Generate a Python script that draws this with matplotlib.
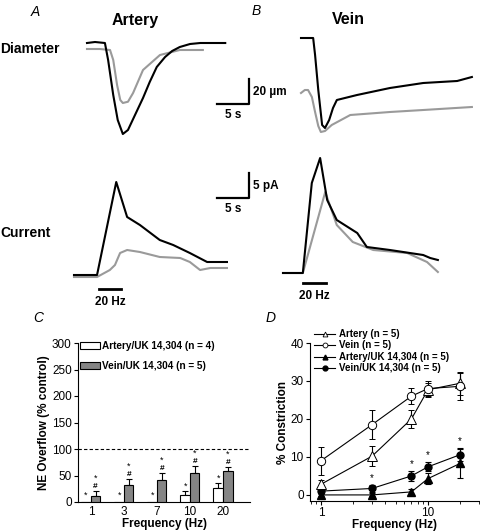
import numpy as np
import matplotlib.pyplot as plt
from matplotlib.patches import Patch
from matplotlib.lines import Line2D
from matplotlib.ticker import LogLocator, NullFormatter

plt.rcParams['font.family'] = ['Liberation Sans', 'DejaVu Sans']

W, H = 480, 531
GRAY = '#9a9a9a'
BAR_GRAY = '#858585'

# ---- traces (time in s, diameter in um, current in pA)
art_diam_t = [0, 1.25, 2.8, 3.3, 4.1, 4.8, 5.6, 6.4, 7.5, 8.75, 9.8, 10.9, 12.2, 13.3, 14.5, 16.1, 17.7, 19.5, 21.6]
art_diam_blk = [0, 0.8, 0, -13.6, -41.6, -61.6, -72.8, -69.6, -57.6, -44, -31.2, -19.2, -11.2, -6.4, -3.2, -0.8, 0, 0, 0]
art_diam_t2 = [0, 2, 3.6, 4.1, 4.7, 5.2, 5.6, 6.4, 7.2, 8.75, 11.4, 14.5, 18.1]
art_diam_gry = [-4.8, -4.8, -5.6, -13.6, -33.6, -45.6, -48, -47, -40, -21.6, -9.6, -5.6, -5.6]

vein_diam_t = [0, 1.9, 2.2, 2.7, 3.3, 3.75, 4.4, 5.0, 5.6, 8.75, 13.9, 19.1, 24.4, 26.7]
vein_diam_blk = [0, 0, -13.6, -41.6, -69.6, -72, -65.6, -56, -49.6, -45.6, -40, -36, -34.4, -31.2]
vein_diam_t2 = [0, 0.6, 1.1, 1.7, 2.2, 2.7, 3.1, 3.75, 4.8, 7.7, 13.9, 19.1, 26.7]
vein_diam_gry = [-44, -41.6, -41.6, -47.2, -59.2, -70.4, -75.2, -74.4, -69.6, -61.6, -59.2, -57.6, -55.2]

art_cur_t = [0, 1.7, 3.6, 6.6, 8.3, 10.3, 13.4, 15.5, 18.1, 20.8, 23.9]
art_cur_blk = [0, 0, 0, 18.6, 11.6, 10, 7, 6, 4.4, 2.6, 2.6]
art_cur_t2 = [0, 3.6, 5.6, 6.4, 7.2, 8.3, 10.3, 13.4, 16.6, 18.1, 19.7, 21.3, 23.9]
art_cur_gry = [-0.4, -0.4, 1.0, 2.0, 4.4, 5.0, 4.6, 3.6, 3.4, 2.6, 1.0, 1.4, 1.4]

vein_cur_t = [0, 3.1, 4.5, 5.8, 6.9, 8.4, 11.6, 13.1, 16.7, 21.9, 23.0, 24.2]
vein_cur_blk = [0, 0, 18, 23, 14.6, 10.6, 8, 5.2, 4.6, 3.6, 3, 2.6]
vein_cur_t2 = [0, 3.1, 6.6, 8.4, 10.9, 14.1, 19.4, 22.5, 24.2]
vein_cur_gry = [0, 0, 16.2, 9.6, 6.2, 4.6, 4, 2.2, 0.2]

stim_artery = (3.9, 7.3)
stim_vein = (3.1, 6.7)

# ---- panel C: NE overflow
freq_labels = ['1', '3', '7', '10', '20']
ne_artery = [0, 0, 0, 13, 27]
ne_artery_err = [0, 0, 0, 8, 9]
ne_vein = [11, 32, 41, 55, 58]
ne_vein_err = [9, 11, 13, 12, 8]

# ---- panel D: constriction
freqs = [1, 3, 7, 10, 20]
con_artery = [2.8, 10.2, 20.0, 27.7, 29.4]
con_artery_err = [1.0, 2.6, 2.3, 1.8, 3.0]
con_vein = [9.0, 18.5, 26.0, 28.0, 28.6]
con_vein_err = [3.7, 3.9, 2.1, 2.0, 3.6]
con_artery_uk = [0.0, 0.0, 0.8, 4.3, 8.3]
con_artery_uk_err = [0.4, 0.4, 0.8, 1.4, 3.9]
con_vein_uk = [1.0, 1.7, 5.0, 7.4, 10.6]
con_vein_uk_err = [0.8, 1.0, 1.4, 1.2, 1.7]
uk_sig = [False, True, True, True, True]

fig = plt.figure(figsize=(4.8, 5.31), dpi=100)


def px_axes(l, t, r, b):
    return fig.add_axes([l / W, 1 - b / H, (r - l) / W, (b - t) / H])


def trace_axes(box, x0, y0, sx, sy):
    l, t, r, b = box
    ax = px_axes(l, t, r, b)
    ax.set_xlim((l - x0) / sx, (r - x0) / sx)
    ax.set_ylim((y0 - b) / sy, (y0 - t) / sy)
    ax.axis('off')
    return ax


def ftext(x, y, s, **kw):
    fig.text(x / W, 1 - y / H, s, **kw)


# diameter traces
ax = trace_axes((60, 25, 265, 145), 87, 43, 6.4, 1.25)
ax.plot(art_diam_t2, art_diam_gry, color=GRAY, lw=1.5)
ax.plot(art_diam_t, art_diam_blk, color='k', lw=1.5)
ax.plot([20.3, 25.3, 25.3], [-48.8, -48.8, -28.8], color='k', lw=1.6)
ax.text(22.8, -53, '5 s', ha='center', va='top', fontsize=8.5, fontweight='bold')
ax.text(25.9, -38.8, '20 µm', ha='left', va='center', fontsize=8.5, fontweight='bold')

ax = trace_axes((270, 25, 480, 145), 301, 38, 6.4, 1.25)
ax.plot(vein_diam_t2, vein_diam_gry, color=GRAY, lw=1.5)
ax.plot(vein_diam_t, vein_diam_blk, color='k', lw=1.5)

# current traces
ax = trace_axes((60, 150, 265, 305), 74, 275, 6.4, 5)
ax.plot(art_cur_t2, art_cur_gry, color=GRAY, lw=1.5)
ax.plot(art_cur_t, art_cur_blk, color='k', lw=1.5)
ax.plot(stim_artery, [-2.8, -2.8], color='k', lw=2)
ax.text(np.mean(stim_artery), -4.2, '20 Hz', ha='center', va='top', fontsize=8.5, fontweight='bold')
ax.plot([22.3, 27.3, 27.3], [15.4, 15.4, 20.4], color='k', lw=1.6)
ax.text(24.8, 14.4, '5 s', ha='center', va='top', fontsize=8.5, fontweight='bold')
ax.text(27.9, 17.9, '5 pA', ha='left', va='center', fontsize=8.5, fontweight='bold')

ax = trace_axes((270, 150, 480, 305), 283, 273, 6.4, 5)
ax.plot(vein_cur_t2, vein_cur_gry, color=GRAY, lw=1.5)
ax.plot(vein_cur_t, vein_cur_blk, color='k', lw=1.5)
ax.plot(stim_vein, [-2, -2], color='k', lw=2)
ax.text(np.mean(stim_vein), -3.4, '20 Hz', ha='center', va='top', fontsize=8.5, fontweight='bold')

ftext(35, 12, 'A', fontsize=10, style='italic', ha='center', va='center')
ftext(135, 21, 'Artery', fontsize=11.5, fontweight='bold', ha='center', va='center')
ftext(256, 11, 'B', fontsize=10, style='italic', ha='center', va='center')
ftext(348, 20, 'Vein', fontsize=11.5, fontweight='bold', ha='center', va='center')
ftext(0, 49, 'Diameter', fontsize=10, fontweight='bold', ha='left', va='center')
ftext(0, 233, 'Current', fontsize=10, fontweight='bold', ha='left', va='center')
ftext(38, 318, 'C', fontsize=10, style='italic', ha='center', va='center')
ftext(271, 318, 'D', fontsize=10, style='italic', ha='center', va='center')

# ---- panel C
axC = px_axes(78, 343, 250, 502)
x = np.arange(len(freq_labels))
w = 0.29
axC.bar(x - w / 2, ne_artery, w, color='white', edgecolor='k', lw=0.8, zorder=3)
axC.bar(x + w / 2, ne_vein, w, color=BAR_GRAY, edgecolor='k', lw=0.8, zorder=3)
a_v = np.array(ne_artery); a_e = np.array(ne_artery_err)
v_v = np.array(ne_vein); v_e = np.array(ne_vein_err)
m = a_v > 0
axC.errorbar(x[m] - w / 2, a_v[m], yerr=[np.zeros(m.sum()), a_e[m]], fmt='none',
             ecolor='k', elinewidth=0.8, capsize=2, capthick=0.8, zorder=2)
axC.errorbar(x + w / 2, v_v, yerr=[np.zeros(len(x)), v_e], fmt='none',
             ecolor='k', elinewidth=0.8, capsize=2, capthick=0.8, zorder=2)
for i in x:
    axC.text(i - w / 2, max(a_v[i] + a_e[i] + 9, 12), '*', ha='center', va='center', fontsize=6.5)
    axC.text(i + w / 2, v_v[i] + v_e[i] + 9, '#', ha='center', va='center', fontsize=6, fontweight='bold')
    axC.text(i + w / 2, v_v[i] + v_e[i] + 25, '*', ha='center', va='center', fontsize=6.5)
axC.axhline(100, color='k', lw=0.8, ls=(0, (3, 2)))
axC.set_xlim(-0.39, 4.82)
axC.set_ylim(0, 300)
axC.set_yticks(range(0, 301, 50))
axC.set_xticks(x)
axC.set_xticklabels(freq_labels)
axC.tick_params(axis='x', length=0, labelsize=8.5, pad=3)
axC.tick_params(axis='y', direction='out', length=3, width=0.8, labelsize=8.5, pad=1.5)
for s in ('top', 'right'):
    axC.spines[s].set_visible(False)
for s in ('left', 'bottom'):
    axC.spines[s].set_linewidth(0.8)
axC.set_xlabel('Frequency (Hz)', fontsize=8.5, fontweight='bold', labelpad=0)
axC.set_ylabel('NE Overflow (% control)', fontsize=8.5, fontweight='bold', labelpad=1)
axC.legend(handles=[Patch(facecolor='white', edgecolor='k', lw=0.8, label='Artery/UK 14,304 (n = 4)'),
                    Patch(facecolor=BAR_GRAY, edgecolor='k', lw=0.8, label='Vein/UK 14,304 (n = 5)')],
           loc='upper left', bbox_to_anchor=(80 / W, 1 - 341 / H), bbox_transform=fig.transFigure,
           frameon=False, prop={'size': 7.2, 'weight': 'bold'}, handlelength=2.0, handleheight=0.75,
           handletextpad=0.25, labelspacing=1.0, borderpad=0, borderaxespad=0)

# ---- panel D
axD = px_axes(310, 343, 480, 501)
ekw = dict(ecolor='k', elinewidth=0.8, capsize=2.5, capthick=0.8, color='k', lw=0.8)
axD.errorbar(freqs, con_artery_uk, yerr=con_artery_uk_err, marker='^', ms=5.5, mfc='k', mec='k', zorder=3, **ekw)
axD.errorbar(freqs, con_vein_uk, yerr=con_vein_uk_err, marker='o', ms=5, mfc='k', mec='k', zorder=3, **ekw)
axD.errorbar(freqs, con_artery, yerr=con_artery_err, marker='^', ms=6.5, mfc='white', mec='k', mew=0.7, zorder=4, **ekw)
axD.errorbar(freqs, con_vein, yerr=con_vein_err, marker='o', ms=6, mfc='white', mec='k', mew=0.7, zorder=4, **ekw)
for f, v, e, s in zip(freqs, con_vein_uk, con_vein_uk_err, uk_sig):
    if s:
        axD.text(f, v + e + 1.8, '*', ha='center', va='center', fontsize=7)
axD.set_xscale('log')
axD.set_xlim(0.79, 30.6)
axD.set_ylim(-1.6, 40)
axD.set_yticks(range(0, 41, 10))
axD.set_xticks([1, 10])
axD.set_xticklabels(['1', '10'])
axD.xaxis.set_minor_locator(LogLocator(base=10, subs=range(2, 10)))
axD.xaxis.set_minor_formatter(NullFormatter())
axD.tick_params(axis='both', which='major', direction='out', length=3, width=0.8, labelsize=8.5, pad=1.5)
axD.tick_params(axis='x', which='minor', direction='out', length=2, width=0.6)
for s in ('top', 'right'):
    axD.spines[s].set_visible(False)
for s in ('left', 'bottom'):
    axD.spines[s].set_linewidth(0.8)
axD.set_xlabel('Frequency (Hz)', fontsize=8.5, fontweight='bold', labelpad=0)
axD.set_ylabel('% Constriction', fontsize=8.5, fontweight='bold', labelpad=1)
hD = [Line2D([], [], color='k', lw=0.8, marker='^', ms=3.5, mfc='white', mew=0.6, label='Artery (n = 5)'),
      Line2D([], [], color='k', lw=0.8, marker='o', ms=3.5, mfc='white', mew=0.6, label='Vein (n = 5)'),
      Line2D([], [], color='k', lw=0.8, marker='^', ms=3.5, mfc='k', label='Artery/UK 14,304 (n = 5)'),
      Line2D([], [], color='k', lw=0.8, marker='o', ms=3.5, mfc='k', label='Vein/UK 14,304 (n = 5)')]
axD.legend(handles=hD, loc='upper left', bbox_to_anchor=(314 / W, 1 - 329 / H), bbox_transform=fig.transFigure,
           frameon=False, prop={'size': 7, 'weight': 'bold'}, handlelength=2.2, handletextpad=0.35,
           labelspacing=0.15, borderpad=0, borderaxespad=0)

fig.savefig('out.png', dpi=100)
